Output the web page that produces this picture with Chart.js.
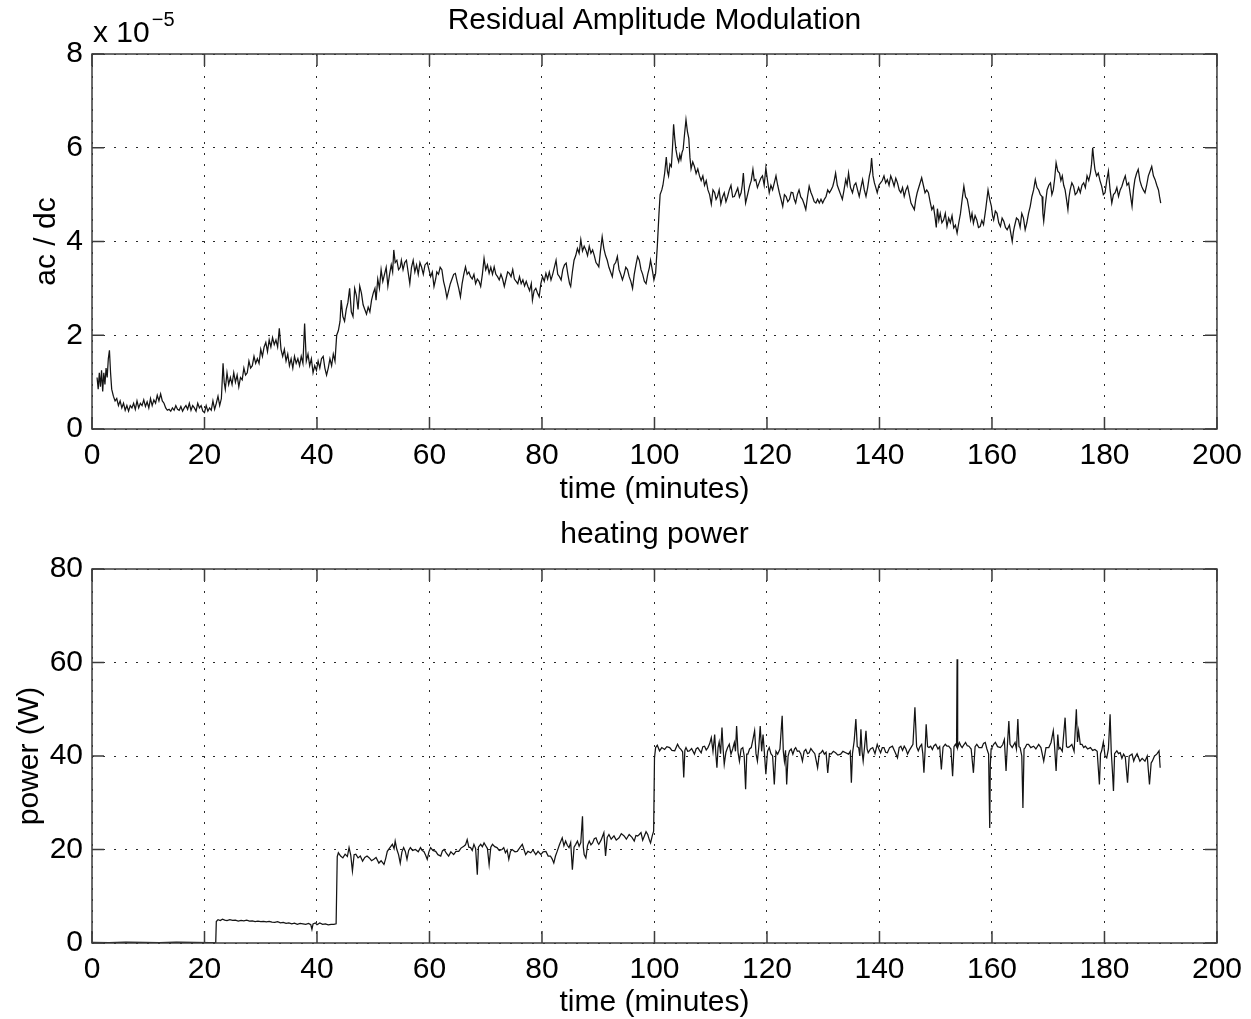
<!DOCTYPE html>
<html>
<head>
<meta charset="utf-8">
<title>Residual Amplitude Modulation / heating power</title>
<script src="https://cdn.jsdelivr.net/npm/chart.js@4.4.1/dist/chart.umd.min.js"></script>
<style>
  html, body { margin: 0; padding: 0; background: #fff; }
  #wrap { position: relative; width: 1251px; height: 1019px; }
  .panel { position: absolute; left: 0; width: 1251px; }
  #ramPanel { top: 0; height: 510px; }
  #powerPanel { top: 510px; height: 509px; }
</style>
</head>
<body>
<div id="wrap">
  <div class="panel" id="ramPanel"><canvas id="ramChart"></canvas></div>
  <div class="panel" id="powerPanel"><canvas id="powerChart"></canvas></div>
</div>
<script>
/* DATA */
const timeTicks = [0, 20, 40, 60, 80, 100, 120, 140, 160, 180, 200];
const ramTicks = [0, 2, 4, 6, 8];
const powerTicks = [0, 20, 40, 60, 80];
const ramExponent = ["x 10", "\u22125"];

// [minutes, ac/dc in units of 1e-5]
const ramPoints = [
  [0.9,1.1],[1.1,0.85],[1.3,1.2],[1.5,0.9],[1.7,1.25],[1.9,0.8],[2.1,1.2],[2.3,0.95],[2.5,1.3],[2.7,1.1],
  [2.9,1.5],[3.1,1.68],[3.3,1.2],[3.5,0.85],[3.8,0.7],[4.1,0.6],[4.4,0.65],[4.7,0.5],[5.0,0.6],[5.3,0.45],
  [5.6,0.55],[5.9,0.4],[6.2,0.5],[6.5,0.38],[6.8,0.5],[7.1,0.45],[7.4,0.55],[7.7,0.42],[8.0,0.6],[8.3,0.45],
  [8.6,0.55],[8.9,0.5],[9.2,0.62],[9.5,0.48],[9.8,0.58],[10.1,0.45],[10.4,0.65],[10.7,0.5],[11.0,0.62],[11.3,0.55],
  [11.6,0.72],[11.9,0.6],[12.2,0.75],[12.5,0.6],[12.8,0.55],[13.1,0.45],[13.4,0.4],[13.7,0.42],[14.0,0.38],[14.3,0.45],
  [14.6,0.4],[14.9,0.5],[15.2,0.42],[15.5,0.4],[15.8,0.48],[16.1,0.38],[16.4,0.45],[16.7,0.5],[17.0,0.42],[17.3,0.55],
  [17.6,0.4],[17.9,0.5],[18.2,0.45],[18.5,0.38],[18.8,0.55],[19.1,0.45],[19.4,0.5],[19.7,0.38],[20.0,0.35],[20.3,0.5],
  [20.6,0.38],[20.9,0.45],[21.2,0.4],[21.5,0.6],[21.8,0.42],[22.1,0.55],[22.4,0.7],[22.7,0.5],[23.0,0.65],[23.3,1.4],
  [23.5,1.0],[23.7,0.85],[24.0,1.2],[24.3,0.95],[24.6,1.1],[24.9,0.95],[25.2,1.2],[25.5,1.0],[25.8,1.15],[26.1,0.9],
  [26.4,1.1],[26.7,1.05],[27.0,1.3],[27.3,1.15],[27.6,1.2],[27.9,1.45],[28.2,1.3],[28.5,1.35],[28.8,1.55],[29.1,1.4],
  [29.4,1.5],[29.7,1.4],[30.0,1.7],[30.3,1.55],[30.6,1.75],[30.9,1.85],[31.2,1.65],[31.5,1.9],[31.8,1.75],[32.1,1.95],
  [32.4,1.8],[32.7,1.9],[33.0,1.75],[33.3,2.15],[33.6,1.7],[33.9,1.55],[34.2,1.7],[34.5,1.45],[34.8,1.6],[35.1,1.35],
  [35.4,1.5],[35.7,1.3],[36.0,1.55],[36.3,1.4],[36.6,1.5],[36.9,1.35],[37.2,1.55],[37.5,1.4],[37.8,2.25],[38.1,1.45],
  [38.4,1.6],[38.7,1.35],[39.0,1.5],[39.3,1.2],[39.6,1.35],[39.9,1.25],[40.2,1.45],[40.5,1.3],[40.8,1.5],[41.1,1.55],
  [41.4,1.3],[41.7,1.15],[42.0,1.3],[42.3,1.5],[42.6,1.35],[42.9,1.6],[43.2,1.45],[43.5,2.0],[43.8,2.1],[44.1,2.3],
  [44.3,2.75],[44.6,2.4],[44.9,2.3],[45.2,2.55],[45.5,2.7],[45.8,3.0],[46.1,2.5],[46.4,2.4],[46.7,3.0],[47.0,2.85],
  [47.3,2.55],[47.6,3.05],[47.9,2.9],[48.2,2.65],[48.5,2.55],[48.8,2.45],[49.1,2.6],[49.4,2.5],[49.7,2.75],[50.0,2.9],
  [50.3,3.0],[50.5,2.75],[50.8,3.2],[51.1,3.0],[51.4,3.4],[51.7,3.15],[52.0,3.3],[52.3,3.45],[52.6,3.05],[52.9,3.3],
  [53.2,3.5],[53.45,3.35],[53.65,3.82],[53.9,3.55],[54.2,3.6],[54.5,3.4],[54.8,3.45],[55.0,3.6],[55.3,3.4],[55.6,3.55],
  [55.9,3.6],[56.2,3.35],[56.5,3.1],[56.8,3.45],[57.1,3.6],[57.4,3.35],[57.7,3.5],[58.0,3.3],[58.3,3.55],[58.6,3.45],
  [58.9,3.3],[59.2,3.5],[59.6,3.55],[59.9,3.4],[60.2,3.25],[60.5,3.35],[60.8,3.04],[61.1,3.2],[61.3,3.35],[61.6,3.3],
  [61.9,3.45],[62.2,3.4],[62.5,3.15],[62.8,3.0],[63.1,2.8],[63.4,2.95],[63.7,3.1],[64.0,3.2],[64.3,3.3],[64.6,3.32],
  [64.9,3.15],[65.2,3.0],[65.5,2.82],[65.8,3.1],[66.1,3.3],[66.4,3.46],[66.7,3.3],[67.0,3.35],[67.3,3.25],[67.6,3.2],
  [67.9,3.3],[68.2,3.1],[68.5,3.2],[68.8,3.15],[69.1,3.04],[69.4,3.3],[69.7,3.64],[70.0,3.4],[70.3,3.5],[70.6,3.32],
  [70.9,3.45],[71.2,3.3],[71.5,3.46],[71.8,3.3],[72.1,3.25],[72.4,3.18],[72.7,3.3],[73.0,3.2],[73.3,3.04],[73.6,3.2],
  [73.9,3.35],[74.2,3.32],[74.5,3.25],[74.8,3.4],[75.1,3.2],[75.4,3.15],[75.7,3.1],[76.0,3.25],[76.3,3.1],[76.6,3.18],
  [76.9,3.05],[77.2,3.15],[77.5,3.04],[77.8,2.95],[78.1,3.1],[78.3,2.75],[78.6,2.95],[78.9,3.0],[79.2,2.9],[79.5,2.82],
  [79.8,3.1],[80.1,3.25],[80.4,3.15],[80.7,3.32],[81.0,3.2],[81.3,3.35],[81.6,3.18],[81.9,3.3],[82.2,3.45],[82.5,3.6],
  [82.8,3.3],[83.1,3.25],[83.4,3.18],[83.7,3.4],[84.0,3.5],[84.3,3.54],[84.6,3.3],[84.9,3.1],[85.1,3.04],[85.4,3.35],
  [85.7,3.6],[86.0,3.7],[86.3,3.85],[86.6,3.75],[86.9,4.04],[87.2,3.8],[87.5,3.9],[87.8,3.82],[88.1,3.7],[88.4,3.9],
  [88.7,3.75],[89.0,3.82],[89.3,3.7],[89.6,3.55],[89.9,3.5],[90.1,3.46],[90.4,3.8],[90.7,4.1],[91.0,3.85],[91.3,3.7],
  [91.6,3.6],[91.9,3.45],[92.2,3.35],[92.5,3.25],[92.8,3.5],[93.1,3.55],[93.4,3.68],[93.7,3.4],[94.0,3.3],[94.3,3.18],
  [94.6,3.3],[94.9,3.45],[95.2,3.4],[95.5,3.25],[95.8,3.15],[96.1,3.0],[96.4,3.3],[96.7,3.5],[97.0,3.68],[97.3,3.6],
  [97.6,3.4],[97.9,3.3],[98.2,3.15],[98.5,3.1],[98.8,3.3],[99.1,3.45],[99.3,3.6],[99.6,3.4],[99.9,3.18],[100.2,3.32],
  [100.5,3.9],[100.8,4.6],[101.0,5.0],[101.3,5.1],[101.5,5.2],[101.8,5.45],[102.1,5.8],[102.3,5.5],[102.5,5.4],[102.75,5.65],
  [103.0,5.6],[103.2,6.0],[103.4,6.5],[103.6,6.2],[103.8,5.97],[104.05,5.8],[104.3,5.7],[104.5,5.85],[104.7,5.75],[104.9,5.9],
  [105.1,5.97],[105.35,6.3],[105.6,6.6],[105.85,6.35],[106.1,6.2],[106.3,5.8],[106.5,5.55],[106.8,5.7],[107.1,5.6],[107.4,5.45],
  [107.7,5.55],[108.0,5.4],[108.3,5.3],[108.6,5.4],[108.9,5.2],[109.2,5.3],[109.5,5.1],[109.8,5.0],[110.1,4.8],[110.4,5.1],
  [110.7,5.04],[110.95,4.9],[111.2,4.96],[111.5,5.1],[111.8,4.8],[112.1,4.95],[112.4,5.04],[112.7,4.85],[113.0,4.96],[113.3,5.1],
  [113.6,5.2],[113.9,4.95],[114.2,4.96],[114.5,5.05],[114.8,5.14],[115.1,4.95],[115.4,5.04],[115.6,5.2],[115.8,5.46],[116.0,5.1],
  [116.2,4.82],[116.55,5.0],[116.9,5.18],[117.2,5.3],[117.5,5.54],[117.75,5.3],[118.0,5.32],[118.3,5.15],[118.6,5.25],[118.9,5.35],
  [119.2,5.4],[119.5,5.2],[119.8,5.57],[120.1,5.3],[120.4,5.04],[120.7,5.2],[121.0,5.1],[121.3,5.25],[121.6,5.4],[121.9,5.2],
  [122.2,5.04],[122.5,4.9],[122.8,4.75],[123.1,5.0],[123.4,4.96],[123.7,4.85],[124.0,4.9],[124.3,5.05],[124.6,5.04],[124.85,4.9],
  [125.1,4.82],[125.4,5.0],[125.7,5.1],[126.0,4.95],[126.3,4.9],[126.6,4.8],[126.9,4.68],[127.2,4.95],[127.5,5.18],[127.8,5.05],
  [128.1,4.96],[128.4,4.85],[128.7,4.82],[129.0,4.9],[129.3,4.82],[129.6,4.9],[129.9,4.82],[130.2,4.9],[130.5,4.96],[130.8,5.1],
  [131.1,5.04],[131.4,5.1],[131.7,5.18],[131.95,5.3],[132.2,5.46],[132.5,5.2],[132.8,5.1],[133.1,5.0],[133.4,4.9],[133.7,5.1],
  [134.0,5.32],[134.25,5.2],[134.5,5.46],[134.85,5.15],[135.2,5.04],[135.5,5.2],[135.8,5.25],[136.1,5.1],[136.4,4.96],[136.7,5.15],
  [137.0,5.32],[137.3,5.1],[137.6,4.96],[137.9,5.15],[138.2,5.4],[138.4,5.5],[138.6,5.78],[138.85,5.4],[139.1,5.25],[139.35,5.15],
  [139.6,5.04],[139.9,5.2],[140.2,5.25],[140.5,5.3],[140.8,5.4],[141.1,5.25],[141.4,5.32],[141.7,5.2],[142.0,5.4],[142.3,5.3],
  [142.6,5.18],[142.9,5.35],[143.2,5.25],[143.5,5.1],[143.8,5.04],[144.1,5.15],[144.4,4.96],[144.7,5.1],[145.0,5.18],[145.3,5.0],
  [145.6,4.82],[145.9,4.75],[146.2,4.68],[146.45,4.9],[146.7,5.04],[147.1,5.2],[147.5,5.36],[147.8,5.2],[148.1,5.04],[148.4,5.1],
  [148.7,5.04],[149.0,4.85],[149.3,4.68],[149.6,4.75],[149.9,4.5],[150.1,4.3],[150.3,4.7],[150.55,4.45],[150.8,4.6],[151.1,4.4],
  [151.4,4.46],[151.7,4.6],[152.0,4.32],[152.3,4.5],[152.6,4.4],[152.9,4.55],[153.2,4.29],[153.5,4.35],[153.8,4.18],[154.1,4.4],
  [154.4,4.6],[154.7,4.9],[155.0,5.18],[155.3,4.95],[155.6,4.9],[155.9,4.7],[156.2,4.46],[156.45,4.6],[156.7,4.39],[157.0,4.55],
  [157.3,4.46],[157.6,4.3],[157.9,4.32],[158.2,4.45],[158.5,4.36],[158.9,4.7],[159.3,5.1],[159.6,4.9],[159.9,4.75],[160.1,4.55],
  [160.3,4.46],[160.6,4.65],[160.9,4.6],[161.2,4.4],[161.5,4.32],[161.8,4.5],[162.1,4.43],[162.4,4.3],[162.7,4.25],[163.1,4.35],
  [163.6,4.0],[163.8,4.2],[164.0,4.32],[164.35,4.5],[164.7,4.46],[165.0,4.3],[165.3,4.6],[165.6,4.5],[165.9,4.25],[166.2,4.4],
  [166.5,4.6],[166.8,4.75],[167.1,4.96],[167.4,5.1],[167.7,5.32],[168.0,5.15],[168.3,5.1],[168.6,5.0],[168.9,4.96],[169.05,4.6],
  [169.2,4.43],[169.5,4.8],[169.8,5.1],[170.1,5.2],[170.4,5.25],[170.65,5.0],[170.9,5.1],[171.15,5.35],[171.4,5.68],[171.7,5.5],
  [172.0,5.46],[172.25,5.3],[172.5,5.4],[172.75,5.2],[173.0,5.1],[173.25,4.9],[173.5,4.68],[173.7,4.95],[173.9,5.1],[174.2,5.25],
  [174.5,5.18],[174.8,5.0],[175.1,5.04],[175.4,5.15],[175.7,5.04],[176.0,5.2],[176.3,5.25],[176.6,5.15],[176.9,5.4],[177.2,5.3],
  [177.5,5.46],[177.7,5.65],[177.9,6.0],[178.1,5.75],[178.3,5.54],[178.6,5.4],[178.9,5.46],[179.2,5.3],[179.5,5.18],[179.8,5.0],
  [180.1,5.04],[180.4,5.3],[180.7,5.5],[181.0,5.1],[181.3,4.82],[181.6,5.0],[181.9,5.04],[182.2,5.15],[182.5,4.96],[182.8,5.1],
  [183.1,5.18],[183.4,5.3],[183.7,5.4],[184.0,5.2],[184.3,5.25],[184.6,5.0],[184.9,4.75],[185.15,5.1],[185.4,5.32],[185.7,5.45],
  [186.0,5.54],[186.3,5.3],[186.6,5.18],[186.9,5.1],[187.2,5.04],[187.5,5.2],[187.8,5.4],[188.1,5.5],[188.4,5.6],[188.7,5.4],
  [189.0,5.32],[189.3,5.2],[189.6,5.1],[189.8,4.95],[190.0,4.82]
];

// [minutes, heating power in W]
const powerPoints = [
  [0,0.15],[3,0.1],[6,0.2],[9,0.15],[12,0.1],[15,0.2],[18,0.15],[21,0.1],[22.0,0.15],[22.1,4.6],
  [22.4,5.0],[22.8,4.8],[23.2,5.1],[23.6,4.9],[24.0,4.8],[24.5,5.0],[25.0,4.85],[25.5,4.9],[26.0,4.7],[26.5,4.85],
  [27.0,4.75],[27.5,4.9],[28.0,4.7],[28.5,4.75],[29.0,4.6],[29.5,4.7],[30.0,4.55],[30.5,4.6],[31.0,4.5],[31.5,4.6],
  [32.0,4.45],[32.5,4.4],[33.0,4.55],[33.5,4.3],[34.0,4.4],[34.5,4.2],[35.0,4.3],[35.5,4.1],[36.0,4.25],[36.5,4.0],
  [37.0,4.2],[37.5,4.1],[38.0,4.0],[38.5,4.2],[38.9,3.9],[39.1,2.9],[39.3,4.1],[39.7,4.3],[40.0,3.9],[40.5,4.3],
  [41.0,4.0],[41.5,4.1],[42.0,3.9],[42.5,4.0],[43.0,4.0],[43.4,4.1],[43.6,18.5],[43.8,19.3],[44.2,18.6],[44.6,18.2],
  [45.0,19.0],[45.4,18.5],[45.7,20.4],[46.0,18.8],[46.3,15.4],[46.6,18.9],[46.9,19.0],[47.3,18.2],[47.7,18.6],[48.1,17.5],
  [48.5,18.3],[48.9,18.6],[49.3,18.2],[49.7,17.6],[50.1,17.9],[50.5,18.3],[51.0,17.1],[51.4,17.6],[51.9,16.8],[52.2,18.0],
  [52.5,19.6],[52.9,20.3],[53.4,21.1],[53.7,20.2],[53.9,21.8],[54.2,20.0],[54.5,18.9],[54.8,17.1],[55.1,19.5],[55.4,20.4],
  [55.7,19.6],[56.0,17.9],[56.3,19.8],[56.6,20.4],[57.0,19.8],[57.5,20.0],[58.0,19.5],[58.4,20.4],[58.7,19.8],[59.0,19.6],
  [59.3,18.8],[59.6,17.9],[59.9,19.5],[60.2,20.4],[60.6,19.8],[61.1,19.6],[61.5,18.9],[62.0,18.6],[62.3,19.7],[62.6,20.0],
  [63.0,19.2],[63.4,18.6],[63.8,19.5],[64.3,18.9],[64.7,19.6],[65.2,19.6],[65.6,20.3],[66.1,20.7],[66.4,21.0],[66.7,22.1],
  [67.0,20.5],[67.3,20.4],[67.6,19.8],[67.9,21.1],[68.2,20.2],[68.5,14.6],[68.7,20.5],[69.1,21.1],[69.4,20.6],[69.7,21.4],
  [70.0,20.8],[70.3,20.2],[70.6,16.8],[70.9,20.5],[71.2,21.1],[71.6,20.6],[72.0,20.4],[72.4,19.8],[72.9,20.0],[73.2,20.4],
  [73.5,19.3],[73.8,19.9],[74.1,17.9],[74.4,19.6],[74.7,20.0],[75.2,19.5],[75.6,19.6],[76.0,20.3],[76.5,21.1],[76.8,20.0],
  [77.1,18.9],[77.5,19.6],[78.0,19.3],[78.4,19.9],[78.9,18.9],[79.3,19.6],[79.8,18.9],[80.2,19.5],[80.7,19.6],[81.1,18.6],
  [81.5,18.6],[81.8,18.0],[82.1,17.1],[82.4,18.6],[82.7,19.6],[83.1,21.0],[83.6,22.5],[83.9,20.8],[84.2,21.8],[84.5,20.9],
  [84.8,20.4],[85.1,21.5],[85.4,15.7],[85.7,20.5],[86.0,21.1],[86.3,21.8],[86.6,20.7],[86.9,21.5],[87.2,27.1],[87.35,20.5],
  [87.5,18.9],[87.8,18.2],[88.1,20.9],[88.4,21.8],[88.7,21.0],[89.0,21.4],[89.3,22.3],[89.6,22.5],[89.9,21.5],[90.1,21.1],
  [90.5,22.0],[91.0,23.6],[91.3,18.6],[91.6,22.6],[91.9,23.2],[92.3,22.2],[92.8,22.9],[93.2,22.0],[93.7,22.5],[94.1,23.4],
  [94.6,22.9],[95.0,22.2],[95.5,23.2],[96.0,22.6],[96.4,21.8],[96.7,23.0],[97.0,22.9],[97.3,23.2],[97.6,23.6],[97.9,22.0],
  [98.2,22.9],[98.5,23.8],[98.8,23.2],[99.1,22.0],[99.3,21.4],[99.6,22.9],[99.85,23.9],[100.0,39.6],[100.2,41.8],[100.5,42.3],
  [100.9,41.1],[101.3,41.8],[101.8,41.4],[102.2,42.0],[102.7,41.8],[103.1,41.2],[103.6,41.1],[104.1,42.5],[104.4,41.8],[104.7,41.4],
  [105.0,40.9],[105.2,35.4],[105.4,41.2],[105.6,41.8],[105.9,41.0],[106.2,41.1],[106.6,41.6],[107.1,40.4],[107.4,41.5],[107.7,41.8],
  [108.0,41.2],[108.3,40.7],[108.6,42.0],[108.9,42.1],[109.2,41.3],[109.5,41.8],[109.8,42.6],[110.1,43.9],[110.4,41.0],[110.7,44.6],
  [110.9,40.5],[111.1,37.5],[111.3,41.8],[111.5,43.0],[111.75,40.5],[112.0,46.1],[112.2,41.5],[112.4,38.2],[112.7,40.8],[113.0,41.8],
  [113.3,42.5],[113.6,40.4],[113.9,41.5],[114.2,42.9],[114.4,41.0],[114.6,46.4],[114.85,40.8],[115.1,38.9],[115.4,41.5],[115.7,41.8],
  [115.95,40.0],[116.2,32.9],[116.4,40.4],[116.6,40.4],[116.9,41.5],[117.2,41.8],[117.5,43.5],[117.8,45.4],[118.05,40.5],[118.3,38.9],
  [118.55,42.0],[118.8,46.4],[119.05,41.0],[119.3,44.6],[119.55,40.5],[119.8,36.1],[120.1,41.0],[120.4,41.8],[120.7,40.5],[121.0,40.0],
  [121.3,33.9],[121.6,41.0],[121.9,40.4],[122.3,41.5],[122.7,48.6],[122.9,41.0],[123.1,38.9],[123.3,41.2],[123.5,33.9],[123.75,40.0],
  [124.0,41.1],[124.3,41.5],[124.6,40.4],[124.9,41.5],[125.1,41.8],[125.4,41.0],[125.7,41.1],[126.0,40.5],[126.3,38.9],[126.6,41.0],
  [126.9,41.4],[127.2,40.5],[127.5,40.7],[127.8,41.6],[128.1,41.1],[128.5,40.5],[129.0,37.5],[129.3,40.5],[129.6,40.7],[129.9,41.2],
  [130.2,40.4],[130.5,40.8],[130.8,36.4],[131.1,40.5],[131.4,40.4],[131.8,41.0],[132.2,40.7],[132.6,40.2],[133.1,40.4],[133.5,41.0],
  [134.0,40.7],[134.5,40.4],[134.8,41.0],[135.0,34.3],[135.2,40.5],[135.5,43.2],[135.8,47.9],[136.05,42.0],[136.3,41.8],[136.5,40.0],
  [136.7,45.7],[136.9,41.0],[137.1,38.9],[137.35,42.0],[137.6,45.4],[137.8,41.5],[138.0,40.7],[138.4,41.5],[138.8,41.8],[139.2,40.5],
  [139.6,42.5],[139.9,41.5],[140.2,40.7],[140.5,41.8],[140.8,41.8],[141.1,40.8],[141.4,40.7],[141.8,41.8],[142.3,42.1],[142.7,41.0],
  [143.2,39.6],[143.5,41.8],[143.8,42.1],[144.1,41.2],[144.4,42.1],[144.7,41.5],[145.0,40.4],[145.3,41.2],[145.6,41.8],[145.95,42.5],
  [146.3,50.4],[146.6,42.0],[146.9,41.1],[147.2,42.0],[147.5,42.5],[147.7,40.5],[147.9,36.4],[148.1,41.0],[148.3,46.8],[148.55,42.0],
  [148.8,41.8],[149.1,42.1],[149.4,41.4],[149.7,42.2],[150.0,42.5],[150.4,41.5],[150.7,42.0],[151.0,37.1],[151.3,41.9],[151.7,42.5],
  [152.0,42.1],[152.3,42.1],[152.7,41.5],[153.0,35.7],[153.25,42.0],[153.5,42.5],[153.7,42.0],[153.8,60.7],[153.9,41.8],[154.2,42.9],
  [154.5,42.1],[154.7,41.8],[155.0,42.4],[155.3,42.9],[155.6,42.2],[155.9,42.1],[156.3,41.5],[156.7,36.4],[157.0,42.0],[157.3,42.5],
  [157.7,41.8],[158.2,41.8],[158.5,42.7],[158.8,42.9],[159.1,41.5],[159.4,40.4],[159.5,32.0],[159.6,24.6],[159.7,38.0],[159.85,41.5],
  [160.0,41.8],[160.3,42.5],[160.6,42.9],[161.0,42.0],[161.5,41.8],[161.9,42.4],[162.2,43.5],[162.5,36.8],[162.7,41.5],[163.0,47.5],
  [163.2,42.5],[163.6,41.8],[164.1,42.9],[164.35,41.5],[164.6,47.9],[164.8,42.0],[165.0,41.8],[165.3,40.0],[165.5,28.9],[165.7,41.5],
  [165.9,41.8],[166.2,42.5],[166.5,42.5],[166.9,41.8],[167.4,42.1],[167.8,41.5],[168.3,42.5],[168.7,41.8],[169.2,38.9],[169.6,41.8],
  [170.1,41.8],[170.5,42.9],[170.9,45.4],[171.1,42.5],[171.4,36.8],[171.7,44.6],[171.9,41.5],[172.1,41.8],[172.5,41.0],[173.0,48.2],
  [173.25,42.0],[173.5,41.8],[173.8,42.0],[174.2,42.5],[174.6,41.0],[175.0,50.0],[175.2,43.0],[175.4,45.4],[175.7,42.5],[176.0,42.5],
  [176.3,41.8],[176.6,42.1],[177.0,41.5],[177.5,41.8],[177.9,41.2],[178.3,41.4],[178.7,41.0],[179.1,33.9],[179.3,40.5],[179.5,41.1],
  [179.8,43.0],[180.1,40.0],[180.4,39.6],[180.7,41.5],[181.0,48.9],[181.2,41.0],[181.4,37.0],[181.6,32.5],[181.8,40.5],[182.2,41.1],
  [182.5,40.5],[182.8,40.7],[183.1,39.5],[183.4,40.4],[183.7,39.8],[184.1,34.3],[184.4,40.0],[184.9,40.4],[185.2,38.9],[185.4,39.6],
  [185.8,40.5],[186.3,38.9],[186.7,39.5],[187.2,38.9],[187.6,40.0],[188.0,33.9],[188.3,38.5],[188.5,38.9],[188.9,40.0],[189.3,40.4],
  [189.7,41.1],[189.9,37.5]
];

/* STYLE */
const FONT = '"Liberation Sans", Arial, Helvetica, sans-serif';
Chart.defaults.font.family = FONT;
Chart.defaults.font.size = 30;
Chart.defaults.color = "#000";

/* MATLAB-like box with inward tick marks */
const matlabBox = {
  id: "matlabBox",
  afterDatasetsDraw(chart) {
    const { ctx, chartArea: a, scales } = chart;
    const len = 12;
    ctx.save();
    ctx.strokeStyle = "#3c3c3c";
    ctx.lineWidth = 1.5;
    ctx.beginPath();
    scales.x.ticks.forEach((t) => {
      const px = scales.x.getPixelForValue(t.value);
      ctx.moveTo(px, a.bottom);
      ctx.lineTo(px, a.bottom - len);
      ctx.moveTo(px, a.top);
      ctx.lineTo(px, a.top + len);
    });
    scales.y.ticks.forEach((t) => {
      const py = scales.y.getPixelForValue(t.value);
      ctx.moveTo(a.left, py);
      ctx.lineTo(a.left + len, py);
      ctx.moveTo(a.right, py);
      ctx.lineTo(a.right - len, py);
    });
    ctx.stroke();
    ctx.strokeRect(a.left, a.top, a.right - a.left, a.bottom - a.top);
    ctx.restore();
  },
};

/* "x 10^-5" multiplier above the top axis */
const exponentLabel = {
  id: "exponentLabel",
  afterDraw(chart) {
    const { ctx, chartArea: a } = chart;
    ctx.save();
    ctx.fillStyle = "#000";
    ctx.textBaseline = "alphabetic";
    ctx.textAlign = "left";
    ctx.font = "30px " + FONT;
    ctx.fillText(ramExponent[0], a.left + 1, 42);
    const w = ctx.measureText(ramExponent[0]).width;
    ctx.font = "20px " + FONT;
    ctx.fillText(ramExponent[1], a.left + 3 + w, 26);
    ctx.restore();
  },
};

function makeChart(canvasId, opts) {
  return new Chart(document.getElementById(canvasId), {
    type: "line",
    data: {
      datasets: [
        {
          data: opts.points.map(([x, y]) => ({ x, y })),
          borderColor: "#141414",
          borderWidth: 1.25,
          pointRadius: 0,
          tension: 0,
          fill: false,
        },
      ],
    },
    options: {
      responsive: true,
      maintainAspectRatio: false,
      animation: false,
      events: [],
      layout: { padding: { left: 0, right: 32, top: 0, bottom: 0 } },
      plugins: {
        legend: { display: false },
        tooltip: { enabled: false },
        title: {
          display: true,
          text: opts.title,
          fullSize: false,
          font: { size: 30, weight: "normal" },
          color: "#000",
          padding: opts.titlePad,
        },
      },
      scales: {
        x: {
          type: "linear",
          min: 0,
          max: 200,
          afterBuildTicks: (s) => {
            s.ticks = timeTicks.map((v) => ({ value: v }));
          },
          afterFit: (s) => {
            s.height = opts.xHeight;
          },
          ticks: { padding: opts.xTickPad, maxRotation: 0, color: "#000" },
          grid: { color: "#2a2a2a", lineWidth: 1, drawTicks: false },
          border: { display: false, dash: [2, 9] },
          title: {
            display: true,
            text: "time (minutes)",
            color: "#000",
            font: { size: 30, lineHeight: 1 },
            padding: { top: 0, bottom: opts.xTitlePad },
          },
        },
        y: {
          type: "linear",
          min: 0,
          max: opts.yMax,
          afterBuildTicks: (s) => {
            s.ticks = opts.yTicks.map((v) => ({ value: v }));
          },
          afterFit: (s) => {
            s.width = 92;
          },
          ticks: { padding: 9, color: "#000" },
          grid: { color: "#2a2a2a", lineWidth: 1, drawTicks: false },
          border: { display: false, dash: [2, 9] },
          title: {
            display: true,
            text: opts.yLabel,
            color: "#000",
            padding: { top: opts.yTitlePad, bottom: 0 },
          },
        },
      },
    },
    plugins: opts.extra ? [matlabBox, opts.extra] : [matlabBox],
  });
}

makeChart("ramChart", {
  points: ramPoints,
  title: "Residual Amplitude Modulation",
  titlePad: { top: 3, bottom: 15 },
  yLabel: "ac / dc",
  yMax: 8,
  yTicks: ramTicks,
  yTitlePad: 29,
  xHeight: 81,
  xTickPad: 9,
  xTitlePad: 5,
  extra: exponentLabel,
});

makeChart("powerChart", {
  points: powerPoints,
  title: "heating power",
  titlePad: { top: 7, bottom: 16 },
  yLabel: "power (W)",
  yMax: 80,
  yTicks: powerTicks,
  yTitlePad: 12,
  xHeight: 76,
  xTickPad: 9,
  xTitlePad: 1,
});
</script>
</body>
</html>
